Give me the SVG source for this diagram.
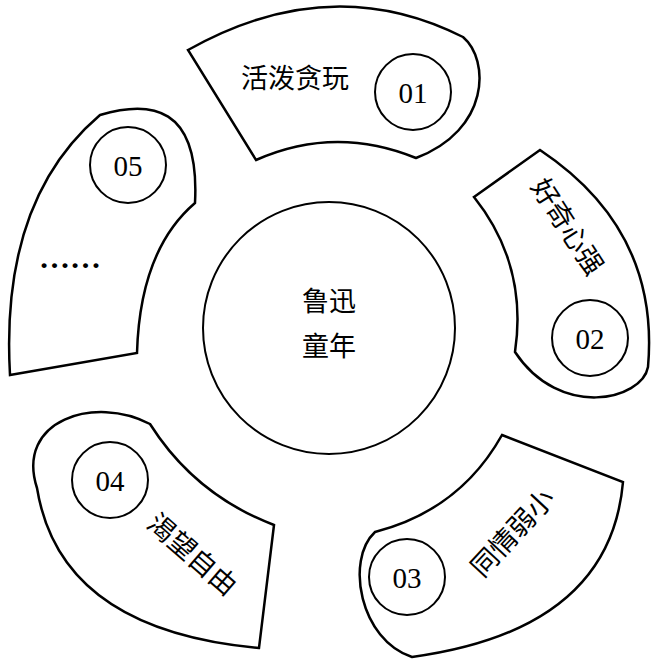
<svg xmlns="http://www.w3.org/2000/svg" width="658" height="662" viewBox="0 0 658 662">
<style>
.p{fill:#fff;stroke:#000;stroke-width:2.5}
.c{fill:#fff;stroke:#000;stroke-width:2}
.t{font-family:'Liberation Serif','Noto Sans CJK SC',serif;font-size:27px;fill:#000;text-anchor:middle}
.n{font-family:'Liberation Serif','Times New Roman',serif;font-size:29px;fill:#000;text-anchor:middle}
</style>
<rect width="658" height="662" fill="#fff"/>
<g id="center"><circle class="c" cx="329" cy="328" r="126"/>
<text class="t" x="329" y="311">鲁迅</text><text class="t" x="329" y="356">童年</text></g>
<g id="p01"><path class="p" d="M188,50 Q330,-30 463,37 C490,60 490,130 416,158 Q335,125 256,160 Z"/>
<text class="t" x="295" y="88">活泼贪玩</text><circle class="c" cx="413" cy="92" r="38"/><text class="n" x="413" y="103">01</text></g>
<g id="p02"><path class="p" d="M474,197 L540,150 Q660,230 648,367 C642,400 560,420 515,352 Q528,265 474,197 Z"/>
<text class="t" transform="translate(567,227) rotate(57)" y="9">好奇心强</text><circle class="c" cx="590" cy="338" r="38"/><text class="n" x="590" y="349">02</text></g>
<g id="p03"><path class="p" d="M502,435 L623,482 Q610,630 412,657 C360,640 345,560 375,532 Q460,510 502,435 Z"/>
<text class="t" transform="translate(513,533) rotate(-47)" y="9">同情弱小</text><circle class="c" cx="407" cy="577" r="38"/><text class="n" x="407" y="588">03</text></g>
<g id="p04"><path class="p" d="M274,525 L259,648 Q60,630 37,488 C15,420 95,395 150,424 Q195,495 274,525 Z"/>
<text class="t" transform="translate(192,555) rotate(41)" y="9">渴望自由</text><circle class="c" cx="110" cy="480" r="38"/><text class="n" x="110" y="491">04</text></g>
<g id="p05"><path class="p" d="M100,115 C150,100 200,105 195,203 Q140,250 137,353 L10,375 Q0,200 100,115 Z"/>
<text class="n" x="70" y="268" font-weight="bold" textLength="62" lengthAdjust="spacingAndGlyphs">……</text><circle class="c" cx="128" cy="165" r="38"/><text class="n" x="128" y="176">05</text></g>
<g id="connectors"/>
</svg>
